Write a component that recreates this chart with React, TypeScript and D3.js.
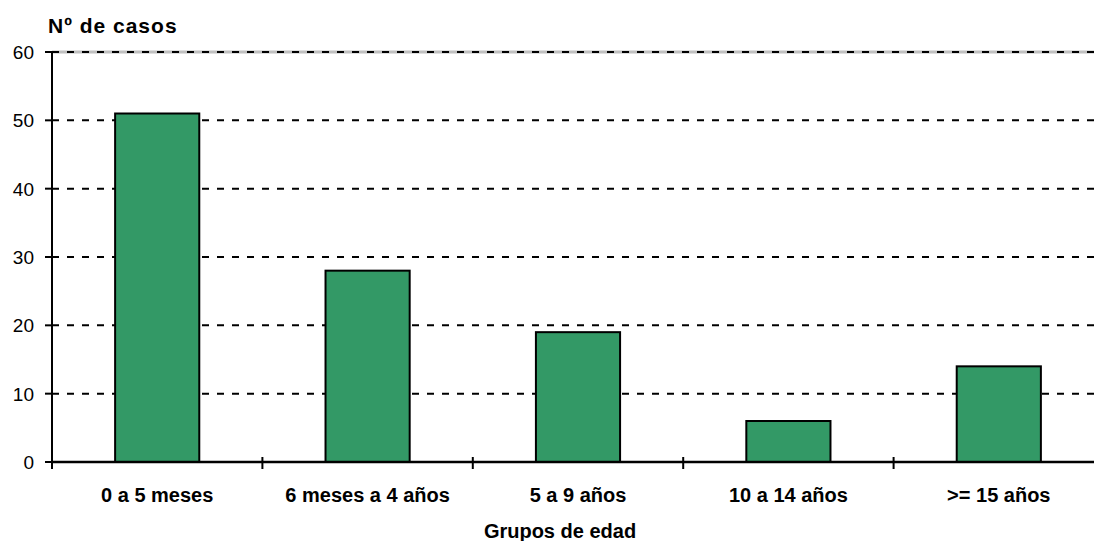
import React from "react";
import * as d3 from "d3";

const categories = ["0 a 5 meses", "6 meses a 4 años", "5 a 9 años", "10 a 14 años", ">= 15 años"];
const values = [51, 28, 19, 6, 14];
const yTicks = [0, 10, 20, 30, 40, 50, 60];

export default function App() {
  const W = 1094, H = 541;
  const left = 52, right = 1104, top = 52, bottom = 462;
  const x = d3.scaleBand<string>().domain(categories).range([left, right]).paddingInner(0).paddingOuter(0);
  const y = d3.scaleLinear().domain([0, 60]).range([bottom, top]);
  const bw = x.bandwidth() * 0.4;
  const font = "Liberation Sans, Arial, sans-serif";
  const boundaries = d3.range(categories.length + 1).map((i) => left + i * x.bandwidth());
  return (
    <svg width={W} height={H} style={{ position: "absolute", left: 0, top: 0 }} fontFamily={font}>
      <rect x={0} y={0} width={W} height={H} fill="white" />
      {/* grid lines */}
      <line x1={left} x2={right} y1={y(60)} y2={y(60)} stroke="#c0c0c0" strokeWidth={3} />
      {yTicks.filter((t) => t > 0).map((t) => (
        <line key={t} x1={left} x2={right} y1={y(t)} y2={y(t)} stroke="black" strokeWidth={2} strokeDasharray="7,8" />
      ))}
      {/* bars */}
      {categories.map((c, i) => (
        <rect
          key={c}
          x={(x(c) as number) + (x.bandwidth() - bw) / 2}
          y={y(values[i])}
          width={bw}
          height={y(0) - y(values[i])}
          fill="#339966"
          stroke="black"
          strokeWidth={2}
        />
      ))}
      {/* y axis */}
      <line x1={left} x2={left} y1={top} y2={bottom} stroke="black" strokeWidth={2} />
      {yTicks.map((t) => (
        <g key={t}>
          <line x1={left - 7} x2={left} y1={y(t)} y2={y(t)} stroke="black" strokeWidth={2} />
          <text x={34} y={y(t) + 7} textAnchor="end" fontSize={19} fill="black">{t}</text>
        </g>
      ))}
      {/* x axis */}
      <line x1={left} x2={right} y1={bottom} y2={bottom} stroke="black" strokeWidth={2.5} />
      {boundaries.map((b, i) => (
        <line key={i} x1={b} x2={b} y1={bottom - 5} y2={bottom + 7} stroke="black" strokeWidth={2} />
      ))}
      {categories.map((c) => (
        <text key={c} x={(x(c) as number) + x.bandwidth() / 2} y={502} textAnchor="middle" fontSize={20} fontWeight="bold" fill="black">{c}</text>
      ))}
      <text x={48} y={33} fontSize={21} fontWeight="bold" fill="black" letterSpacing={1}>Nº de casos</text>
      <text x={560} y={538} textAnchor="middle" fontSize={20} fontWeight="bold" fill="black">Grupos de edad</text>
    </svg>
  );
}
